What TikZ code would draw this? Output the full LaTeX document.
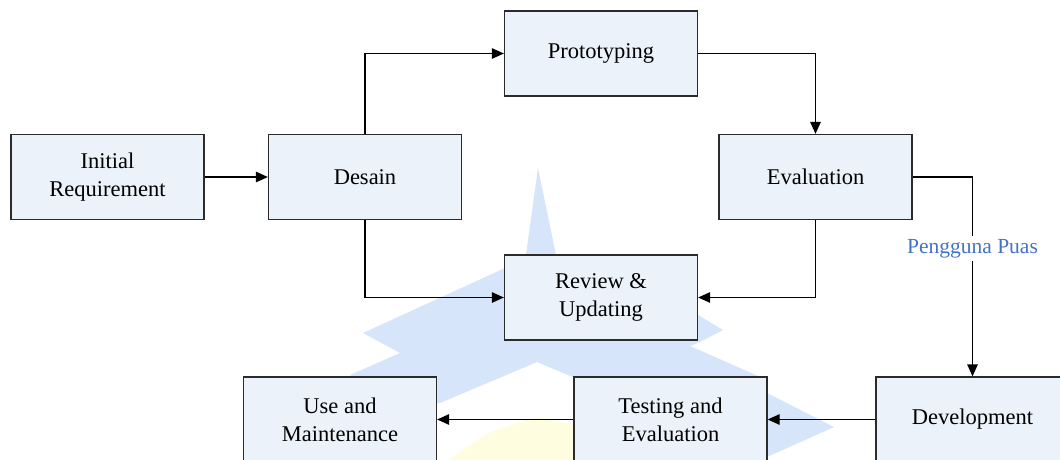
\documentclass[tikz,border=0pt]{standalone}
\usepackage{fontspec}
\setmainfont{Liberation Serif}
\newfontfamily\tnr{Liberation Serif}
\usetikzlibrary{arrows.meta}
\definecolor{boxfill}{HTML}{EBF2FA}
\definecolor{boxline}{HTML}{2B2B2B}
\definecolor{wmblue}{HTML}{D7E5FB}
\definecolor{wmyellow}{HTML}{FFFDE0}
\definecolor{lblblue}{HTML}{4472C4}
\tikzset{
  stepbox/.style={draw=boxline, line width=1.3pt, fill=boxfill, minimum width=193pt, minimum height=85pt, inner sep=0pt, align=center, font=\tnr\fontsize{22.5}{28}\selectfont},
  arr/.style={draw=black, line width=1.3pt, -{Triangle[length=12pt,width=10.5pt]}},
  lbl/.style={fill=white, text=lblblue, inner sep=3pt, font=\tnr\fontsize{21.5}{25}\selectfont}
}
\begin{document}
\begin{tikzpicture}[x=1pt,y=-1pt]
\clip (0,0) rectangle (1060,460);
\fill[white] (0,0) rectangle (1060,460);
% watermark
\fill[wmblue] (538,168) -- (556,255) -- (640,280) -- (723,330) -- (700,342) -- (690,346) -- (767,380) -- (767,393) -- (834,427) -- (767,457) -- (700,440) -- (575,378) -- (537,362) -- (440,403) -- (400,400) -- (350,375) -- (400,353) -- (363,333) -- (505,268) -- (526,255) -- cycle;
\fill[wmyellow] (445,462) -- (490,432) -- (537,417) -- (575,425) -- (575,462) -- cycle;
% nodes
\node[stepbox] (init)   at (107.5,177)  {Initial\\Requirement};
\node[stepbox] (desain) at (365,177)    {Desain};
\node[stepbox] (proto)  at (601,53.5)   {Prototyping};
\node[stepbox] (eval)   at (815.5,177)  {Evaluation};
\node[stepbox] (review) at (601,297.5)  {Review \&\\Updating};
\node[stepbox] (use)    at (340,419.5)  {Use and\\Maintenance};
\node[stepbox] (test)   at (670.5,419.5){Testing and\\Evaluation};
\node[stepbox] (dev)    at (972.5,419.5){Development};
% connectors
\draw[arr] (init) -- (desain);
\draw[arr] (desain.north) |- (proto.west);
\draw[arr] (proto.east) -| (eval.north);
\draw[arr] (eval.south) |- (review.east);
\draw[arr] (desain.south) |- (review.west);
\draw[arr] (eval.east) -| (dev.north) node[lbl, pos=0.68] (puas) {Pengguna Puas};
\draw[arr] (dev) -- (test);
\draw[arr] (test) -- (use);
\end{tikzpicture}
\end{document}
